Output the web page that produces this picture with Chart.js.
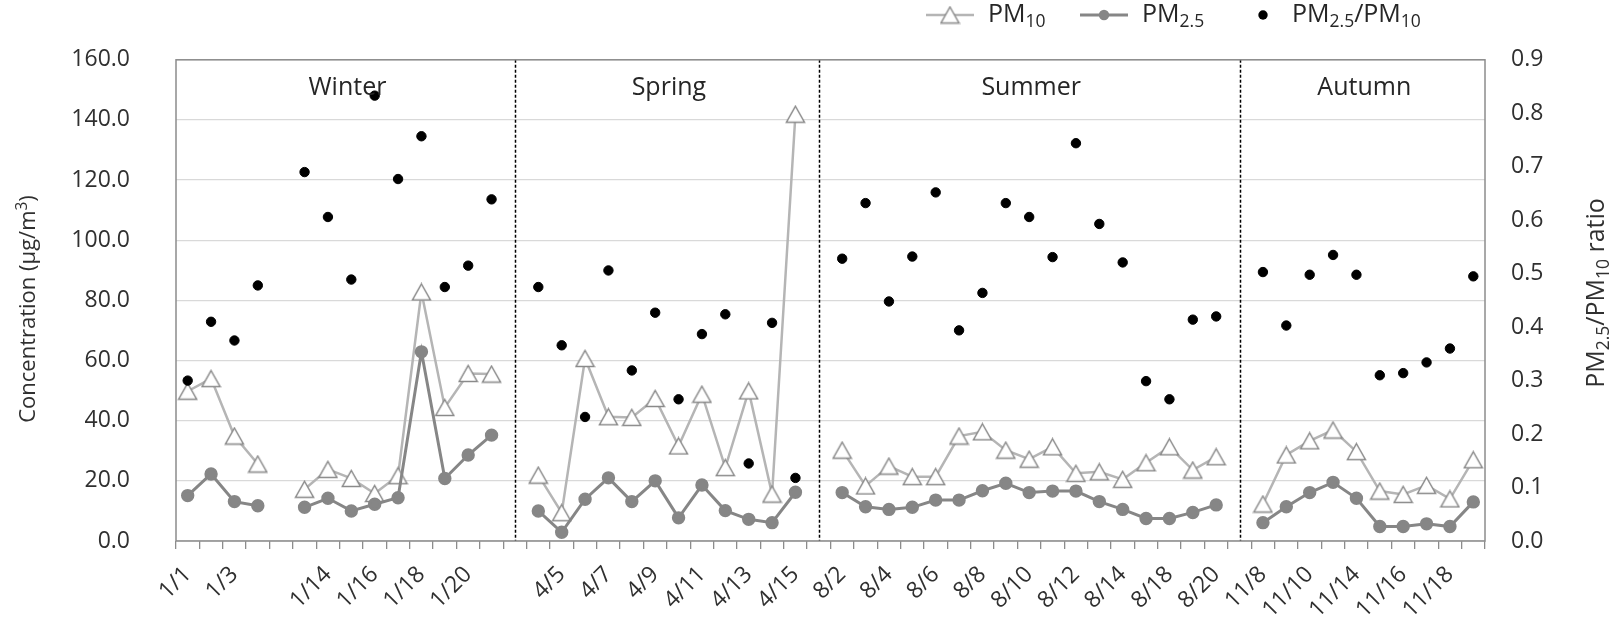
<!DOCTYPE html>
<html>
<head>
<meta charset="utf-8">
<title>PM10 / PM2.5 by season</title>
<script src="https://cdn.jsdelivr.net/npm/chart.js@4.4.1/dist/chart.umd.min.js"></script>
<style>
  html, body { margin: 0; padding: 0; background: #fff; }
  #wrap { width: 1616px; height: 633px; }
</style>
</head>
<body>
<div id="wrap"><canvas id="pmChart" width="1616" height="633"></canvas></div>
<script>
// sampling days per season ('' = no sample that slot)
const seasonNames = ['Winter', 'Spring', 'Summer', 'Autumn'];

const winterDates = ['1/1', '1/2', '1/3', '1/4', '', '1/13', '1/14', '1/15', '1/16', '1/17', '1/18', '1/19', '1/20', '1/21'];
const winterPM10 = [49.8, 54.0, 34.9, 25.6, null, 17.2, 23.8, 20.8, 15.8, 21.7, 82.8, 44.4, 55.7, 55.5];
const winterPM25 = [15.1, 22.3, 13.1, 11.7, null, 11.2, 14.2, 10.0, 12.2, 14.4, 62.9, 20.8, 28.6, 35.2];
const winterRatio = [0.30, 0.41, 0.375, 0.478, null, 0.69, 0.606, 0.489, 0.833, 0.677, 0.757, 0.475, 0.515, 0.639];

const springDates = ['4/4', '4/5', '4/6', '4/7', '4/8', '4/9', '4/10', '4/11', '4/12', '4/13', '4/14', '4/15'];
const springPM10 = [21.9, 9.4, 60.7, 41.3, 41.1, 47.4, 31.6, 48.8, 24.4, 49.9, 15.6, 141.9];
const springPM25 = [10.0, 2.9, 13.9, 21.0, 13.1, 20.0, 7.7, 18.6, 10.1, 7.2, 6.1, 16.2];
const springRatio = [0.475, 0.366, 0.232, 0.506, 0.319, 0.427, 0.265, 0.387, 0.424, 0.145, 0.408, 0.118];

const summerDates = ['8/2', '8/3', '8/4', '8/5', '8/6', '8/7', '8/8', '8/9', '8/10', '8/11', '8/12', '8/13', '8/14', '8/16', '8/18', '8/19', '8/20'];
const summerPM10 = [30.2, 18.3, 24.9, 21.4, 21.4, 34.9, 36.3, 30.2, 27.2, 31.3, 22.5, 23.0, 20.5, 26.0, 31.3, 23.6, 28.0];
const summerPM25 = [16.1, 11.4, 10.5, 11.2, 13.6, 13.6, 16.7, 19.2, 16.1, 16.6, 16.6, 13.1, 10.5, 7.5, 7.5, 9.5, 12.0];
const summerRatio = [0.528, 0.632, 0.448, 0.532, 0.652, 0.394, 0.464, 0.632, 0.606, 0.531, 0.744, 0.593, 0.521, 0.299, 0.265, 0.414, 0.42];

const autumnDates = ['11/8', '11/9', '11/10', '11/12', '11/14', '11/15', '11/16', '11/17', '11/18', '11/19'];
const autumnPM10 = [12.3, 28.6, 33.3, 36.9, 29.7, 16.6, 15.5, 18.5, 14.0, 27.0];
const autumnPM25 = [6.1, 11.4, 16.1, 19.5, 14.2, 4.8, 4.8, 5.7, 4.8, 13.0];
const autumnRatio = [0.503, 0.403, 0.498, 0.535, 0.498, 0.31, 0.314, 0.334, 0.36, 0.495];

// axis ranges
const concMax = 160, concStep = 20;
const ratioMax = 0.9, ratioStep = 0.1;

const FONT = '"Open Sans", "Noto Sans", sans-serif';
const TEXT = '#303030';

// join the seasons, with one empty slot between them for the dashed divider
const blocks = [
    [winterDates, winterPM10, winterPM25, winterRatio],
    [springDates, springPM10, springPM25, springRatio],
    [summerDates, summerPM10, summerPM25, summerRatio],
    [autumnDates, autumnPM10, autumnPM25, autumnRatio]
];
const labels = [], pm10 = [], pm25 = [], ratio = [], dividers = [];
blocks.forEach((b, i) => {
    if (i > 0) {
        dividers.push(labels.length);
        labels.push(''); pm10.push(null); pm25.push(null); ratio.push(null);
    }
    labels.push(...b[0]); pm10.push(...b[1]); pm25.push(...b[2]); ratio.push(...b[3]);
});

// hollow triangle marker, centred on its box like Excel does it
function makeTriangle() {
    const c = document.createElement('canvas');
    c.width = 21; c.height = 19;
    const g = c.getContext('2d');
    g.beginPath();
    g.moveTo(10.5, 1.5); g.lineTo(19.5, 17.5); g.lineTo(1.5, 17.5); g.closePath();
    g.fillStyle = '#fff'; g.fill();
    g.strokeStyle = '#8a8a8a'; g.lineWidth = 1.5; g.stroke();
    return c;
}
const triangle = makeTriangle();

// text with sub/superscripts; parts = [[text, ''|'sub'|'sup'], ...]
function drawRich(ctx, parts, x, y, size, color, align) {
    const widths = parts.map(([t, k]) => {
        ctx.font = (k ? size * 0.7 : size) + 'px ' + FONT;
        return ctx.measureText(t).width;
    });
    const total = widths.reduce((a, b) => a + b, 0);
    let cx = align === 'left' ? x : x - total / 2;
    ctx.textBaseline = 'middle';
    ctx.textAlign = 'left';
    ctx.fillStyle = color;
    parts.forEach(([t, k], i) => {
        ctx.font = (k ? size * 0.7 : size) + 'px ' + FONT;
        const dy = k === 'sub' ? size * 0.3 : (k === 'sup' ? -size * 0.3 : 0);
        ctx.fillText(t, cx, y + dy);
        cx += widths[i];
    });
    return total;
}

const decorations = {
    id: 'decorations',
    beforeDatasetsDraw(chart) {
        const { ctx, chartArea: a, scales: { x } } = chart;
        ctx.save();
        ctx.strokeStyle = '#000';
        ctx.lineWidth = 1.5;
        ctx.setLineDash([3, 2]);
        dividers.forEach(i => {
            const px = Math.round(x.getPixelForValue(i)) + 0.5;
            ctx.beginPath();
            ctx.moveTo(px, a.top);
            ctx.lineTo(px, a.bottom);
            ctx.stroke();
        });
        ctx.restore();
    },
    afterDraw(chart) {
        const { ctx, chartArea: a, scales: { x } } = chart;
        ctx.save();

        // plot frame
        ctx.strokeStyle = '#8c8c8c';
        ctx.lineWidth = 1.5;
        ctx.strokeRect(a.left, a.top, a.right - a.left, a.bottom - a.top);

        // season names, centred in each block
        const edges = [a.left, ...dividers.map(i => x.getPixelForValue(i)), a.right];
        ctx.font = '25px ' + FONT;
        ctx.fillStyle = '#262626';
        ctx.textAlign = 'center';
        ctx.textBaseline = 'middle';
        seasonNames.forEach((s, i) => {
            ctx.fillText(s, (edges[i] + edges[i + 1]) / 2 + 2, 88);
        });

        // axis titles
        ctx.save();
        ctx.translate(29, 309);
        ctx.rotate(-Math.PI / 2);
        drawRich(ctx, [['Concentration (μg/m', ''], ['3', 'sup'], [')', '']], 0, 0, 22, TEXT);
        ctx.restore();

        ctx.save();
        ctx.translate(1597, 293);
        ctx.rotate(-Math.PI / 2);
        drawRich(ctx, [['PM', ''], ['2.5', 'sub'], ['/PM', ''], ['10', 'sub'], [' ratio', '']], 0, 0, 25, TEXT);
        ctx.restore();

        // legend
        const ly = 15;
        const ds = chart.data.datasets;
        // PM10
        ctx.strokeStyle = ds[0].borderColor; ctx.lineWidth = ds[0].borderWidth;
        ctx.beginPath(); ctx.moveTo(926, ly); ctx.lineTo(974, ly); ctx.stroke();
        ctx.drawImage(triangle, 950 - triangle.width / 2, ly - triangle.height / 2);
        drawRich(ctx, [['PM', ''], ['10', 'sub']], 988, ly, 25, '#262626', 'left');
        // PM2.5
        ctx.strokeStyle = ds[1].borderColor; ctx.lineWidth = ds[1].borderWidth;
        ctx.beginPath(); ctx.moveTo(1080, ly); ctx.lineTo(1128, ly); ctx.stroke();
        ctx.fillStyle = ds[1].pointBackgroundColor;
        ctx.beginPath(); ctx.arc(1104, ly, ds[1].pointRadius, 0, Math.PI * 2); ctx.fill();
        drawRich(ctx, [['PM', ''], ['2.5', 'sub']], 1142, ly, 25, '#262626', 'left');
        // ratio
        ctx.fillStyle = ds[2].pointBackgroundColor;
        ctx.beginPath(); ctx.arc(1263, ly, ds[2].pointRadius, 0, Math.PI * 2); ctx.fill();
        drawRich(ctx, [['PM', ''], ['2.5', 'sub'], ['/PM', ''], ['10', 'sub']], 1292, ly, 25, '#262626', 'left');

        ctx.restore();
    }
};

const tickFont = { family: FONT, size: 23 };

const chart = new Chart(document.getElementById('pmChart').getContext('2d'), {
    type: 'line',
    data: {
        labels: labels,
        datasets: [{
            label: 'PM10',
            data: pm10,
            yAxisID: 'y',
            borderColor: '#b5b5b5',
            borderWidth: 2.5,
            pointStyle: triangle,
            pointRadius: 9,
            tension: 0,
            order: 2
        }, {
            label: 'PM2.5',
            data: pm25,
            yAxisID: 'y',
            borderColor: '#868686',
            borderWidth: 3,
            pointStyle: 'circle',
            pointRadius: 5.2,
            pointBackgroundColor: '#868686',
            pointBorderColor: '#868686',
            tension: 0,
            order: 1
        }, {
            label: 'PM2.5/PM10',
            data: ratio,
            yAxisID: 'y1',
            showLine: false,
            pointStyle: 'circle',
            pointRadius: 4.7,
            pointBackgroundColor: '#000',
            pointBorderColor: '#000',
            order: 0
        }]
    },
    options: {
        responsive: false,
        animation: false,
        layout: { padding: { top: 59, left: 0, right: 0, bottom: 0 } },
        plugins: {
            legend: { display: false },
            tooltip: { enabled: false }
        },
        scales: {
            x: {
                offset: true,
                grid: { offset: true, drawOnChartArea: false, color: '#8c8c8c', lineWidth: 1.3, tickLength: 8 },
                border: { display: false },
                ticks: {
                    autoSkip: false,
                    minRotation: 45,
                    maxRotation: 45,
                    padding: 12,
                    color: TEXT,
                    font: tickFont,
                    callback: (v, i) => (i % 2 === 0 ? labels[i] : '')
                },
                afterFit: s => { s.height = 92; }
            },
            y: {
                position: 'left',
                min: 0,
                max: concMax,
                grid: { color: '#d9d9d9', lineWidth: 1.3, drawTicks: false },
                border: { display: false },
                ticks: {
                    stepSize: concStep,
                    padding: 46,
                    color: TEXT,
                    font: tickFont,
                    callback: v => v.toFixed(1)
                },
                afterFit: s => { s.width = 176; }
            },
            y1: {
                position: 'right',
                min: 0,
                max: ratioMax,
                grid: { display: false, drawTicks: false },
                border: { display: false },
                ticks: {
                    stepSize: ratioStep,
                    padding: 26,
                    color: TEXT,
                    font: tickFont,
                    callback: v => v.toFixed(1)
                },
                afterFit: s => { s.width = 131; }
            }
        }
    },
    plugins: [decorations]
});
</script>
</body>
</html>
